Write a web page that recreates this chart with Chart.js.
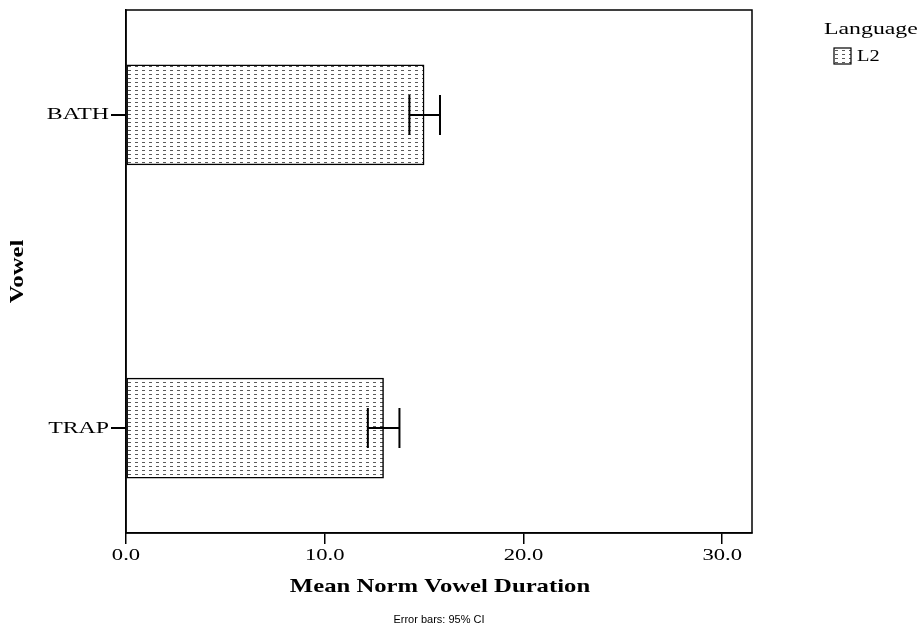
<!DOCTYPE html>
<html>
<head>
<meta charset="utf-8">
<script src="https://cdn.jsdelivr.net/npm/chart.js@4.4.1/dist/chart.umd.min.js"></script>
<style>
  html, body { margin: 0; padding: 0; background: #fff; }
  #wrap { width: 922px; height: 628px; position: relative; }
</style>
</head>
<body>
<div id="wrap"><canvas id="vowelChart" width="922" height="628"></canvas></div>
<script>
// Data
const vowels = ['BATH', 'TRAP'];
const meanDuration = [15.0, 12.96];
const ciLow = [14.26, 12.17];
const ciHigh = [15.8, 13.76];
const xTicks = [0, 10, 20, 30];
const seriesName = 'L2';
const legendTitle = 'Language';

const SERIF = '"Liberation Serif", "Times New Roman", serif';

// dotted fill like the SPSS pattern
function makePattern() {
    const c = document.createElement('canvas');
    c.width = 7;
    c.height = 4;
    const g = c.getContext('2d');
    g.fillStyle = '#ffffff';
    g.fillRect(0, 0, 7, 4);
    g.fillStyle = '#5a5a5a';
    g.fillRect(2, 2, 3, 1);
    return g.createPattern(c, 'repeat');
}

// SPSS output text is wider than normal Times, so stretch it horizontally
function wideText(g, text, x, y, align, sx, font, angle) {
    g.save();
    g.translate(x, y);
    if (angle) g.rotate(angle);
    g.scale(sx, 1);
    g.font = font;
    g.textAlign = align;
    g.textBaseline = 'middle';
    g.fillStyle = '#000';
    g.fillText(text, 0, 0);
    g.restore();
}

const canvas = document.getElementById('vowelChart');
const ctx = canvas.getContext('2d');
const dotted = makePattern();

// frame, error bars, tick labels, titles, legend
const extras = {
    id: 'extras',
    afterDatasetsDraw(chart) {
        const g = chart.ctx;
        const xs = chart.scales.x;
        const ys = chart.scales.y;
        g.save();
        g.strokeStyle = '#000';
        g.lineWidth = 2;
        vowels.forEach((v, i) => {
            const y = ys.getPixelForValue(i);
            const x1 = xs.getPixelForValue(ciLow[i]);
            const x2 = xs.getPixelForValue(ciHigh[i]);
            g.beginPath();
            g.moveTo(x1, y); g.lineTo(x2, y);
            g.moveTo(x1, y - 20); g.lineTo(x1, y + 20);
            g.moveTo(x2, y - 20); g.lineTo(x2, y + 20);
            g.stroke();
        });
        g.restore();
    },
    afterDraw(chart) {
        const g = chart.ctx;
        const a = chart.chartArea;
        const xs = chart.scales.x;
        const ys = chart.scales.y;
        g.save();
        g.strokeStyle = '#000';
        g.lineWidth = 1.5;
        g.strokeRect(a.left, a.top, a.right - a.left, a.bottom - a.top);
        g.restore();

        // tick labels
        vowels.forEach((v, i) => {
            wideText(g, v, 109, ys.getPixelForValue(i), 'right', 1.4, '17px ' + SERIF);
        });
        xTicks.forEach(t => {
            wideText(g, t.toFixed(1), xs.getPixelForValue(t), 556, 'center', 1.33, '17px ' + SERIF);
        });

        const cx = (a.left + a.right) / 2;
        wideText(g, 'Mean Norm Vowel Duration', cx + 1, 587, 'center', 1.3, 'bold 19px ' + SERIF);
        wideText(g, 'Error bars: 95% CI', cx, 620, 'center', 1, '11px "Liberation Sans", Arial, sans-serif');
        wideText(g, 'Vowel', 18, (a.top + a.bottom) / 2, 'center', 1.3, 'bold 19px ' + SERIF, -Math.PI / 2);

        // legend
        wideText(g, legendTitle, 824, 30, 'left', 1.4, '17px ' + SERIF);
        g.save();
        g.fillStyle = dotted;
        g.fillRect(834, 48, 17, 16);
        g.strokeStyle = '#000';
        g.lineWidth = 1.2;
        g.strokeRect(834, 48, 17, 16);
        g.restore();
        wideText(g, seriesName, 857, 57, 'left', 1.2, '17px ' + SERIF);
    }
};

new Chart(ctx, {
    type: 'bar',
    data: {
        datasets: [{
            label: seriesName,
            data: vowels.map((v, i) => ({ x: meanDuration[i], y: i })),
            backgroundColor: dotted,
            borderColor: '#000',
            borderWidth: 1.5,
            borderSkipped: false,
            barThickness: 100
        }]
    },
    options: {
        indexAxis: 'y',
        responsive: false,
        animation: false,
        layout: { padding: { top: 10, right: 170, left: 0, bottom: 0 } },
        scales: {
            x: {
                type: 'linear',
                min: 0,
                max: 31.5,
                afterBuildTicks(scale) { scale.ticks = xTicks.map(v => ({ value: v })); },
                afterFit(scale) { scale.height = 95; },
                grid: { drawOnChartArea: false, drawTicks: true, tickLength: 11, color: '#000', lineWidth: 1.5 },
                border: { display: true, color: '#000', width: 1.5 },
                ticks: { display: false }
            },
            y: {
                type: 'linear',
                reverse: true,
                offset: false,
                min: -0.335,
                max: 1.335,
                afterBuildTicks(scale) { scale.ticks = vowels.map((v, i) => ({ value: i })); },
                afterFit(scale) { scale.width = 126; },
                grid: { offset: false, drawOnChartArea: false, drawTicks: true, tickLength: 15, color: '#000', lineWidth: 2 },
                border: { display: true, color: '#000', width: 1.5 },
                ticks: { display: false }
            }
        },
        plugins: {
            legend: { display: false },
            tooltip: { enabled: false }
        }
    },
    plugins: [extras]
});
</script>
</body>
</html>
